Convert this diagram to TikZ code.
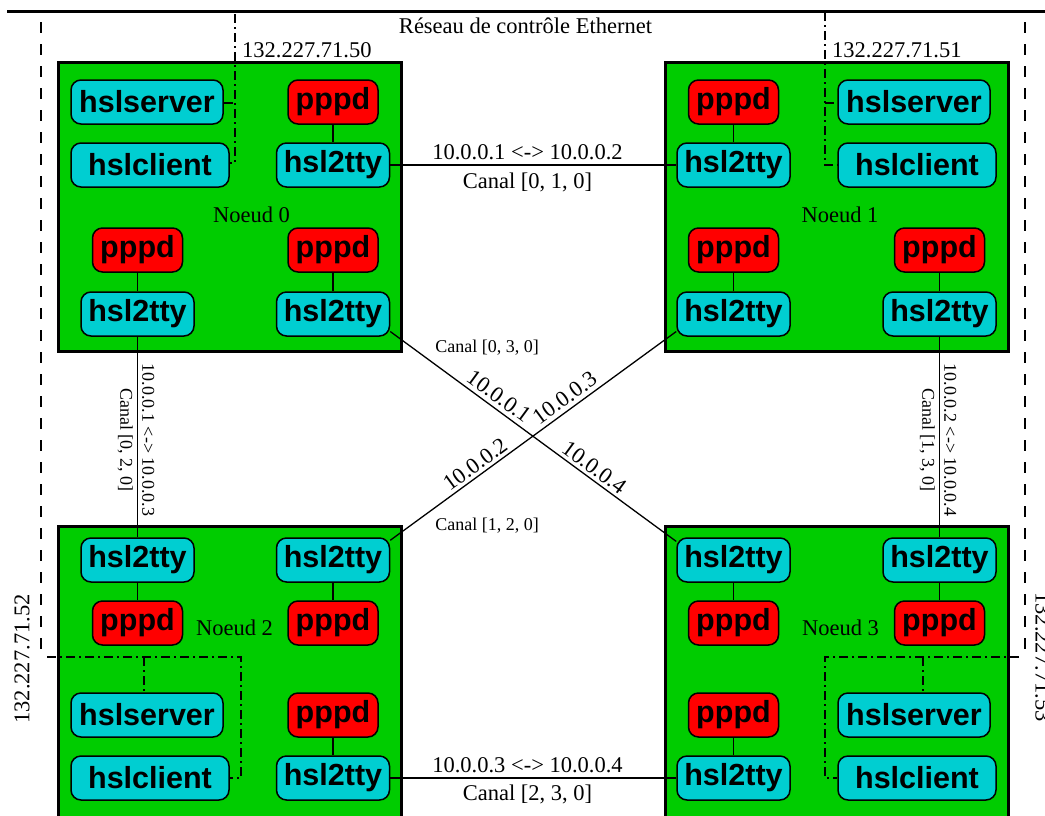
\documentclass[tikz,border=0pt]{standalone}
\usepackage{fontspec}
\setmainfont{Liberation Serif}
\newfontfamily\boxfont{Liberation Sans}
\definecolor{hgreen}{RGB}{0,204,0}
\definecolor{hcyan}{RGB}{0,206,209}
\definecolor{hred}{RGB}{255,0,0}
\tikzset{
  host/.style={draw=black, line width=3pt, fill=hgreen, inner sep=0pt, minimum width=343pt, minimum height=289pt},
  proc/.style={draw=black, line width=1.5pt, rounded corners=10pt, minimum height=44pt, inner sep=0pt,
    font=\boxfont\bfseries\fontsize{30.5}{31}\selectfont},
  srv/.style={proc, fill=hcyan, minimum width=152pt},
  cli/.style={proc, fill=hcyan, minimum width=158pt},
  tty/.style={proc, fill=hcyan, minimum width=113pt},
  ppp/.style={proc, fill=hred, minimum width=90pt},
  link/.style={line width=1.3pt},
  ctrl/.style={line width=1.4pt, dash pattern=on 9pt off 4pt on 2pt off 4pt},
  eth/.style={line width=2pt, dash pattern=on 11pt off 11pt},
  lbl/.style={font=\fontsize{22.5}{24}\selectfont, inner sep=0pt},
  slbl/.style={font=\fontsize{18}{20}\selectfont, inner sep=0pt},
}
\begin{document}
\begin{tikzpicture}[x=1pt, y=-1pt]
\clip (0,0) rectangle (1045,815);
\fill[white] (0,0) rectangle (1045,815);

% Ethernet control network
\coordinate (tl) at (7,11);
\coordinate (tr) at (1050,11);
\draw[line width=3pt] (tl) -- (tr);
\node[lbl, anchor=base] (ethlbl) at (525.5,33) {Réseau de contrôle Ethernet};
\coordinate (eL1) at (41,22);
\coordinate (eL2) at (41,651);
\coordinate (eR1) at (1025,22);
\coordinate (eR2) at (1025,652);
\draw[eth] (eL1) -- (eL2);
\draw[eth] (eR1) -- (eR2);

% host boxes
\node[host] (N0) at (229.5,207) {};
\node[host] (N1) at (836.5,207) {};
\node[host, minimum height=330pt] (N2) at (229.5,691.5) {};
\node[host, minimum height=330pt] (N3) at (836.5,691.5) {};

\node[lbl, anchor=base] (L0) at (251.5,222) {Noeud 0};
\node[lbl, anchor=base] (L1) at (840,222) {Noeud 1};
\node[lbl, anchor=base] (L2) at (234.5,635) {Noeud 2};
\node[lbl, anchor=base] (L3) at (840.5,635) {Noeud 3};

% Node 0
\node[srv] (s0) at (147,102) {hslserver};
\node[cli] (c0) at (150,165) {hslclient};
\node[ppp] (p0a) at (333,102) {pppd};
\node[tty] (t0a) at (333,165) {hsl2tty};
\node[ppp] (p0b) at (137.5,250) {pppd};
\node[tty] (t0b) at (137.5,314) {hsl2tty};
\node[ppp] (p0c) at (333,250) {pppd};
\node[tty] (t0c) at (333,314) {hsl2tty};

% Node 1
\node[ppp] (p1a) at (733.5,102) {pppd};
\node[tty] (t1a) at (733.5,165) {hsl2tty};
\node[srv] (s1) at (914,102) {hslserver};
\node[cli] (c1) at (917,165) {hslclient};
\node[ppp] (p1b) at (733.5,250) {pppd};
\node[tty] (t1b) at (733.5,314) {hsl2tty};
\node[ppp] (p1c) at (939.5,250) {pppd};
\node[tty] (t1c) at (939.5,314) {hsl2tty};

% Node 2
\node[tty] (t2b) at (137.5,560) {hsl2tty};
\node[ppp] (p2b) at (137.5,623) {pppd};
\node[tty] (t2c) at (333,560) {hsl2tty};
\node[ppp] (p2c) at (333,623) {pppd};
\node[srv] (s2) at (147,715) {hslserver};
\node[cli] (c2) at (150,778) {hslclient};
\node[ppp] (p2a) at (333,715) {pppd};
\node[tty] (t2a) at (333,778) {hsl2tty};

% Node 3
\node[tty] (t3b) at (733.5,560) {hsl2tty};
\node[ppp] (p3b) at (733.5,623) {pppd};
\node[tty] (t3c) at (939.5,560) {hsl2tty};
\node[ppp] (p3c) at (939.5,623) {pppd};
\node[srv] (s3) at (914,715) {hslserver};
\node[cli] (c3) at (917,778) {hslclient};
\node[ppp] (p3a) at (733.5,715) {pppd};
\node[tty] (t3a) at (733.5,778) {hsl2tty};

% pppd - hsl2tty links
\draw[link] (p0a) -- (t0a);
\draw[link] (p0b) -- (t0b);
\draw[link] (p0c) -- (t0c);
\draw[link] (p1a) -- (t1a);
\draw[link] (p1b) -- (t1b);
\draw[link] (p1c) -- (t1c);
\draw[link] (p2b) -- (t2b);
\draw[link] (p2c) -- (t2c);
\draw[link] (p2a) -- (t2a);
\draw[link] (p3b) -- (t3b);
\draw[link] (p3c) -- (t3c);
\draw[link] (p3a) -- (t3a);

% serial channels
\draw[link] (t0a) -- (t1a);
\node[lbl, anchor=base] (ch010a) at (527.5,159) {10.0.0.1 <-> 10.0.0.2};
\node[lbl, anchor=base] (ch010b) at (527.5,188) {Canal [0, 1, 0]};

\draw[link] (t2a) -- (t3a);
\node[lbl, anchor=base] (ch230a) at (527.5,772) {10.0.0.3 <-> 10.0.0.4};
\node[lbl, anchor=base] (ch230b) at (527.5,800) {Canal [2, 3, 0]};

\draw[link] (t0b) -- (t2b);
\node[slbl, rotate=-90, anchor=south] (ch020a) at (142,440) {10.0.0.1 <-> 10.0.0.3};
\node[slbl, rotate=-90, anchor=north] (ch020b) at (133,440) {Canal [0, 2, 0]};

\draw[link] (t1c) -- (t3c);
\node[slbl, rotate=-90, anchor=south] (ch130a) at (944,440) {10.0.0.2 <-> 10.0.0.4};
\node[slbl, rotate=-90, anchor=north] (ch130b) at (935,440) {Canal [1, 3, 0]};

\draw[link] (t0c.-17) -- node[lbl, pos=0.355, sloped, above, inner sep=4pt] (d1a) {10.0.0.1}
                         node[lbl, pos=0.69, sloped, above, inner sep=3pt] (d1b) {10.0.0.4} (t3b.162);
\node[slbl] (ch030) at (487,348) {Canal [0, 3, 0]};

\draw[link] (t2c.19) -- node[lbl, pos=0.32, sloped, above, inner sep=3pt] (d2a) {10.0.0.2}
                        node[lbl, pos=0.635, sloped, above, inner sep=4pt] (d2b) {10.0.0.3} (t1b.-163);
\node[slbl] (ch120) at (487,526) {Canal [1, 2, 0]};

% control network taps
\node[lbl, anchor=base west] (ip50) at (242,57) {132.227.71.50};
\node[lbl, anchor=base west] (ip51) at (832,57) {132.227.71.51};
\node[lbl, rotate=90] (ip52) at (22,659) {132.227.71.52};
\node[lbl, rotate=-90] (ip53) at (1043,657) {132.227.71.53};

\coordinate (v0t) at (235,14);
\coordinate (v0b) at (235,163);
\coordinate (v0m) at (235,103);
\draw[ctrl] (v0t) -- (v0b) -- (c0.east |- v0b);
\draw[ctrl] (s0.east |- v0m) -- (v0m);

\coordinate (v1t) at (825,12);
\coordinate (v1b) at (825,165);
\coordinate (v1m) at (825,103);
\draw[ctrl] (v1t) -- (v1b) -- (c1.west |- v1b);
\draw[ctrl] (v1m) -- (s1.west |- v1m);

\coordinate (h2a) at (47,657);
\coordinate (h2b) at (241,657);
\coordinate (h2c) at (241,778);
\coordinate (h2s) at (144,657);
\draw[ctrl] (h2a) -- (h2b) -- (h2c) -- (c2.east);
\draw[ctrl] (h2s) -- (s2.north -| h2s);

\coordinate (h3a) at (1019,657);
\coordinate (h3b) at (825,657);
\coordinate (h3c) at (825,778);
\coordinate (h3s) at (923,657);
\draw[ctrl] (h3a) -- (h3b) -- (h3c) -- (c3.west);
\draw[ctrl] (h3s) -- (s3.north -| h3s);
\end{tikzpicture}
\end{document}
